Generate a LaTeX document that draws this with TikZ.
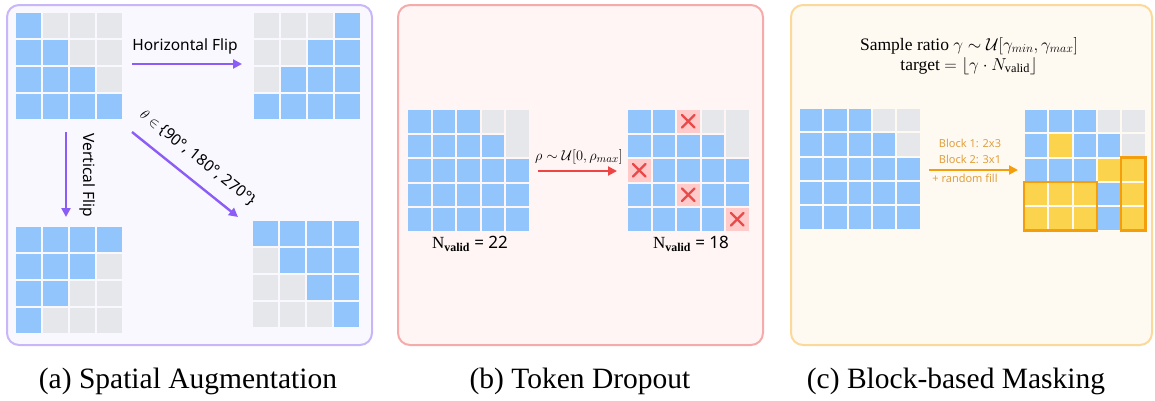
\documentclass[tikz,border=0pt]{standalone}
\usepackage{fontspec}
\setmainfont{Liberation Serif}
\setsansfont{Noto Sans}
\usetikzlibrary{arrows.meta}
\definecolor{cellB}{HTML}{93C5FD}
\definecolor{cellG}{HTML}{E5E7EB}
\definecolor{cellY}{HTML}{FCD34D}
\definecolor{cellP}{HTML}{FECACA}
\definecolor{crossred}{HTML}{E84A4A}
\definecolor{purpA}{HTML}{8B5CF6}
\definecolor{redA}{HTML}{EF4444}
\definecolor{orA}{HTML}{F59E0B}
\definecolor{orT}{HTML}{E0A040}
\definecolor{pbdA}{HTML}{C9B6F8}
\definecolor{pfA}{HTML}{F8F8FE}
\definecolor{pbdB}{HTML}{F6ABAB}
\definecolor{pfB}{HTML}{FEF5F4}
\definecolor{pbdC}{HTML}{FBD99A}
\definecolor{pfC}{HTML}{FFFAF1}
\newcommand\tokgrid[5]{% x0, y0, pitch, cellsize, rows
  \foreach \rowlist [count=\r from 0] in {#5} {
    \foreach \cc [count=\k from 0] in \rowlist {
      \fill[fill=cell\cc] (#1+\k*#3, #2+\r*#3) rectangle ++(#4,#4);
    }
  }
}
\newcommand\crosscell[3]{% x0 y0 size
  \draw[crossred, line width=2.2pt, line cap=round] (#1+#3*0.22,#2+#3*0.22) -- (#1+#3*0.78,#2+#3*0.78);
  \draw[crossred, line width=2.2pt, line cap=round] (#1+#3*0.78,#2+#3*0.22) -- (#1+#3*0.22,#2+#3*0.78);
}
\begin{document}
\begin{tikzpicture}[x=1pt,y=-1pt,
  panel/.style={rounded corners=12pt, line width=2pt},
  arr/.style={line width=2.4pt, -{Triangle[length=9pt,width=9pt]}},
  lbl/.style={font=\sffamily\fontsize{15.5}{17}\selectfont, inner sep=1pt},
  captext/.style={font=\rmfamily\fontsize{29.5}{31}\selectfont},
  blk/.style={font=\sffamily\fontsize{11}{13}\selectfont, text=orT, inner sep=1pt}
]
\useasboundingbox (0,0) rectangle (1155,400);

% panels
\draw[panel, draw=pbdA, fill=pfA] (7,5) rectangle (372,345);
\draw[panel, draw=pbdB, fill=pfB] (398,5) rectangle (763,345);
\draw[panel, draw=pbdC, fill=pfC] (791,5) rectangle (1152,345);

% ---------- (a) ----------
\tokgrid{16}{13}{26.9}{25}{{B,G,G,G},{B,B,G,G},{B,B,B,G},{B,B,B,B}}
\tokgrid{254}{13}{26.9}{25}{{G,G,G,B},{G,G,B,B},{G,B,B,B},{B,B,B,B}}
\tokgrid{16}{227}{26.9}{25}{{B,B,B,B},{B,B,B,G},{B,B,G,G},{B,G,G,G}}
\tokgrid{253}{221}{26.9}{25}{{B,B,B,B},{G,B,B,B},{G,G,B,B},{G,G,G,B}}

\coordinate (hfs) at (132,64);
\coordinate (hfe) at (242,64);
\coordinate (vfs) at (66,132);
\coordinate (vfe) at (66,217);
\coordinate (rts) at (132,132);
\coordinate (rte) at (238,217);
\draw[arr, purpA] (hfs) -- (hfe);
\draw[arr, purpA] (vfs) -- (vfe);
\draw[arr, purpA] (rts) -- (rte);
\node[lbl] (hfl) at (185,46) {Horizontal Flip};
\node[lbl, rotate=-90] (vfl) at (88,175) {Vertical Flip};
\node[lbl, rotate=-38.7] (rtl) at (198,158) {$\theta\in$ \{90°, 180°, 270°\}};

% ---------- (b) ----------
\tokgrid{408}{110}{24.5}{22.5}{{B,B,B,G},{B,B,B,B},{B,B,B,B,B},{B,B,B,B,B},{B,B,B,B,B}}
\fill[cellG] (408+4*24.5,110) rectangle ++(22.5,24.5+22.5);
\tokgrid{628}{110}{24.5}{22.5}{{B,B,P,G},{B,B,B,B},{P,B,B,B,B},{B,B,P,B,B},{B,B,B,B,P}}
\fill[cellG] (628+4*24.5,110) rectangle ++(22.5,24.5+22.5);
\crosscell{628+2*24.5}{110}{22.5}
\crosscell{628}{110+2*24.5}{22.5}
\crosscell{628+2*24.5}{110+3*24.5}{22.5}
\crosscell{628+4*24.5}{110+4*24.5}{22.5}

\coordinate (dps) at (538,171);
\coordinate (dpe) at (617,171);
\draw[arr, redA, line width=2pt] (dps) -- (dpe);
\node[font=\fontsize{15}{17}\selectfont, inner sep=1pt] (dpl) at (579,157) {$\rho\sim\mathcal{U}[0,\rho_{max}]$};
\node[font=\fontsize{17}{19}\selectfont, inner sep=1pt] (nv1) at (470,244) {N$_{\mathbf{valid}}$ \sffamily = 22};
\node[font=\fontsize{17}{19}\selectfont, inner sep=1pt] (nv2) at (691,244) {N$_{\mathbf{valid}}$ \sffamily = 18};

% ---------- (c) ----------
\node[font=\fontsize{17.5}{20}\selectfont, align=center, inner sep=1pt] (ctx) at (969,56)
  {Sample ratio $\gamma\sim\mathcal{U}[\gamma_{min},\gamma_{max}]$\\[0pt] target $=\lfloor\gamma\cdot N_{\mathrm{valid}}\rfloor$};
\tokgrid{800}{109}{24.3}{22.3}{{B,B,B,G,G},{B,B,B,B,G},{B,B,B,B,B},{B,B,B,B,B},{B,B,B,B,B}}
\tokgrid{1025}{110}{24.3}{22.3}{{B,B,B,G,G},{B,Y,B,B,G},{B,B,B,Y,Y},{Y,Y,Y,B,Y},{Y,Y,Y,B,Y}}
\draw[orA, line width=2.5pt] (1024,110+3*24.3-1) rectangle (1025+3*24.3-1,110+5*24.3-1);
\draw[orA, line width=2.5pt] (1025+4*24.3-1,110+2*24.3-1) rectangle (1025+5*24.3-1,110+5*24.3-1);

\coordinate (bms) at (929,170);
\coordinate (bme) at (1018,170);
\draw[arr, orA, line width=2pt] (bms) -- (bme);
\node[blk] (b1) at (970,143) {Block 1: 2x3};
\node[blk] (b2) at (970,159) {Block 2: 3x1};
\node[blk] (b3) at (965,178) {+ random fill};

% captions
\node[captext] (ca) at (188,381) {(a) Spatial Augmentation};
\node[captext] (cb) at (580,381) {(b) Token Dropout};
\node[captext] (cc) at (956,381) {(c) Block-based Masking};
\end{tikzpicture}
\end{document}
